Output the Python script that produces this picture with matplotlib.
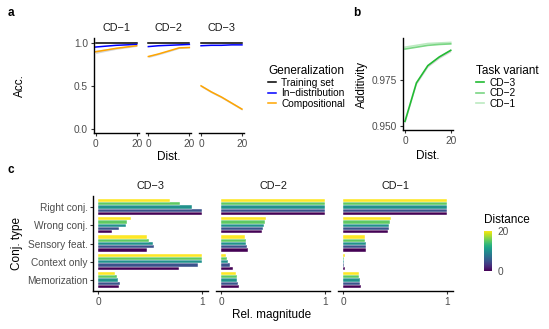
import numpy as np
import matplotlib.pyplot as plt
from matplotlib.lines import Line2D
import matplotlib as mpl

plt.rcParams['font.family'] = ['Liberation Sans', 'DejaVu Sans']

# ---- data ----
dist = [0, 5, 10, 15, 20]
facets_a = ['CD-1', 'CD-2', 'CD-3']
train_acc = {'CD-1': [1.0, 1.0, 1.0, 1.0, 1.0],
             'CD-2': [1.0, 1.0, 1.0, 1.0, 1.0],
             'CD-3': [1.0, 1.0, 1.0, 1.0, 1.0]}
indist_acc = {'CD-1': [0.95, 0.96, 0.97, 0.975, 0.98],
              'CD-2': [0.955, 0.965, 0.97, 0.975, 0.98],
              'CD-3': [0.965, 0.97, 0.97, 0.975, 0.975]}
comp_acc = {'CD-1': [0.895, 0.915, 0.935, 0.95, 0.965],
            'CD-2': [0.84, 0.87, 0.905, 0.94, 0.945],
            'CD-3': [0.50, 0.43, 0.37, 0.30, 0.23]}
comp_se = {'CD-1': [0.02, 0.015, 0.012, 0.01, 0.008],
           'CD-2': [0.012, 0.01, 0.01, 0.008, 0.008],
           'CD-3': [0.012, 0.012, 0.012, 0.012, 0.012]}

variants_b = ['CD-3', 'CD-2', 'CD-1']
additivity = {'CD-3': [0.9527, 0.9736, 0.983, 0.9877, 0.9913],
              'CD-2': [0.992, 0.993, 0.994, 0.9945, 0.9948],
              'CD-1': [0.993, 0.994, 0.995, 0.9953, 0.9956]}
add_alpha = {'CD-3': 1.0, 'CD-2': 0.6, 'CD-1': 0.3}

conj_types = ['Right conj.', 'Wrong conj.', 'Sensory feat.', 'Context only', 'Memorization']
facets_c = ['CD-3', 'CD-2', 'CD-1']
# rows: conj type, cols: distance 0,5,10,15,20
rel_mag = {
    'CD-3': [[1.0, 1.0, 0.90, 0.78, 0.69],
             [0.13, 0.20, 0.26, 0.27, 0.31],
             [0.47, 0.53, 0.52, 0.49, 0.47],
             [0.77, 0.96, 1.0, 1.0, 1.0],
             [0.20, 0.21, 0.19, 0.18, 0.16]],
    'CD-2': [[1.0, 1.0, 1.0, 1.0, 1.0],
             [0.39, 0.40, 0.41, 0.42, 0.43],
             [0.26, 0.25, 0.24, 0.24, 0.23],
             [0.11, 0.08, 0.06, 0.05, 0.04],
             [0.17, 0.16, 0.15, 0.15, 0.14]],
    'CD-1': [[1.0, 1.0, 1.0, 1.0, 1.0],
             [0.43, 0.44, 0.44, 0.45, 0.46],
             [0.22, 0.22, 0.22, 0.21, 0.21],
             [0.014, 0.004, 0.003, 0.005, 0.012],
             [0.17, 0.16, 0.16, 0.15, 0.15]],
}

# ---- layout helpers ----
W, H = 549, 329
fig = plt.figure(figsize=(W / 100, H / 100), dpi=100)


def ax_px(x0, x1, y0, y1):
    return fig.add_axes([x0 / W, 1 - y1 / H, (x1 - x0) / W, (y1 - y0) / H])


TICK_C = '#4D4D4D'
FS = 7.3
TFS = 8.5
SFS = 7.8


def style(ax, left=True):
    for s in ['top', 'right']:
        ax.spines[s].set_visible(False)
    ax.spines['bottom'].set_linewidth(1.0)
    ax.spines['left'].set_linewidth(1.0)
    ax.tick_params(colors='#333333', labelcolor=TICK_C, labelsize=FS, length=2.5, width=0.8, pad=1.5)
    if not left:
        ax.spines['left'].set_visible(False)
        ax.tick_params(axis='y', left=False, labelleft=False)
    ax.set_facecolor('none')


# ---- panel a ----
a_x = [(93.6, 138.7), (146.3, 191.4), (199, 244)]
for k, f in enumerate(facets_a):
    ax = ax_px(a_x[k][0], a_x[k][1], 38.4, 133.3)
    style(ax, left=(k == 0))
    lo = np.array(comp_acc[f]) - np.array(comp_se[f])
    hi = np.array(comp_acc[f]) + np.array(comp_se[f])
    ax.fill_between(dist, lo, hi, color='#BBBBBB', alpha=0.6, lw=0)
    ax.plot(dist, train_acc[f], color='black', lw=1.1)
    ax.plot(dist, indist_acc[f], color='#0000FF', lw=1.1)
    ax.plot(dist, comp_acc[f], color='#FFA500', lw=1.1)
    ax.set_xlim(-1, 21)
    ax.set_ylim(-0.05, 1.05)
    ax.set_xticks([0, 20])
    ax.set_yticks([0, 0.5, 1.0])
    ax.set_yticklabels(['0.0', '0.5', '1.0'])
    ax.set_title(f.replace('-', '\u2212'), fontsize=SFS, color='#1A1A1A', pad=5)
fig.text(20 / W, 1 - 86 / H, 'Acc.', fontsize=TFS, rotation=90, ha='center', va='center')
fig.text(169 / W, 1 - 157 / H, 'Dist.', fontsize=TFS, ha='center', va='center')

hand_a = [Line2D([], [], color=c, lw=1.1) for c in ['black', '#0000FF', '#FFA500']]
fig.legend(hand_a, ['Training set', 'In\u2212distribution', 'Compositional'],
           title='Generalization', loc='upper left', bbox_to_anchor=(264 / W, 1 - 61 / H),
           frameon=False, fontsize=FS, title_fontsize=TFS, handlelength=0.8,
           handletextpad=0.5, labelspacing=0.05, alignment='left', borderaxespad=0)

# ---- panel b ----
axb = ax_px(402.7, 453, 38, 130)
style(axb)
axb.fill_between(dist, np.array(additivity['CD-3']) - 0.0008, np.array(additivity['CD-3']) + 0.0008,
                 color='#BBBBBB', alpha=0.6, lw=0)
for v in variants_b:
    axb.plot(dist, additivity[v], color='#22BB33', alpha=add_alpha[v], lw=1.2)
axb.set_xlim(-1, 21)
axb.set_ylim(0.948, 0.998)
axb.set_xticks([0, 20])
axb.set_yticks([0.95, 0.975])
axb.set_yticklabels(['0.950', '0.975'])
axb.set_ylabel('Additivity', fontsize=TFS, labelpad=3)
axb.set_xlabel('Dist.', fontsize=TFS, labelpad=3)

hand_b = [Line2D([], [], color='#22BB33', alpha=add_alpha[v], lw=1.2) for v in variants_b]
fig.legend(hand_b, [v.replace('-', '\u2212') for v in variants_b],
           title='Task variant', loc='upper left', bbox_to_anchor=(472 / W, 1 - 61 / H),
           frameon=False, fontsize=FS, title_fontsize=TFS, handlelength=0.8,
           handletextpad=0.5, labelspacing=0.05, alignment='left', borderaxespad=0)

# ---- panel c ----
cmap = plt.get_cmap('viridis')
norm = mpl.colors.Normalize(0, 20)
c_x = [(93.3, 207.6), (216.3, 330.2), (338.3, 452.6)]
bar_h = 0.18
ypos = np.arange(len(conj_types))[::-1] + 1
for k, f in enumerate(facets_c):
    ax = ax_px(c_x[k][0], c_x[k][1], 196, 291)
    style(ax, left=(k == 0))
    vals = np.array(rel_mag[f])
    for j, d in enumerate(dist):
        ax.barh(ypos + (j - 2) * bar_h, vals[:, j], height=bar_h, color=cmap(norm(d)),
                edgecolor='white', linewidth=0.3)
    ax.set_xlim(-0.05, 1.05)
    ax.set_ylim(0.4, 5.6)
    ax.set_xticks([0, 1])
    ax.set_yticks(ypos)
    ax.set_yticklabels(conj_types)
    ax.set_title(f.replace('-', '\u2212'), fontsize=SFS, color='#1A1A1A', pad=5)
fig.text(17 / W, 1 - 243 / H, 'Conj. type', fontsize=TFS, rotation=90, ha='center', va='center')
fig.text(272 / W, 1 - 315 / H, 'Rel. magnitude', fontsize=TFS, ha='center', va='center')

cax = ax_px(484, 492.3, 230.7, 271)
cb = mpl.colorbar.ColorbarBase(cax, cmap=cmap, norm=norm, ticks=[0, 20])
cb.outline.set_visible(False)
cax.tick_params(labelsize=FS, labelcolor=TICK_C, length=2, color='white', pad=2)
fig.text(484 / W, 1 - 220 / H, 'Distance', fontsize=TFS, ha='left', va='center')

# panel letters
for lab, x, y in [('a', 8, 13), ('b', 353, 13), ('c', 8, 170)]:
    fig.text(x / W, 1 - y / H, lab, fontsize=8.5, fontweight='bold', ha='left', va='center')

fig.savefig('out.png', dpi=100)
